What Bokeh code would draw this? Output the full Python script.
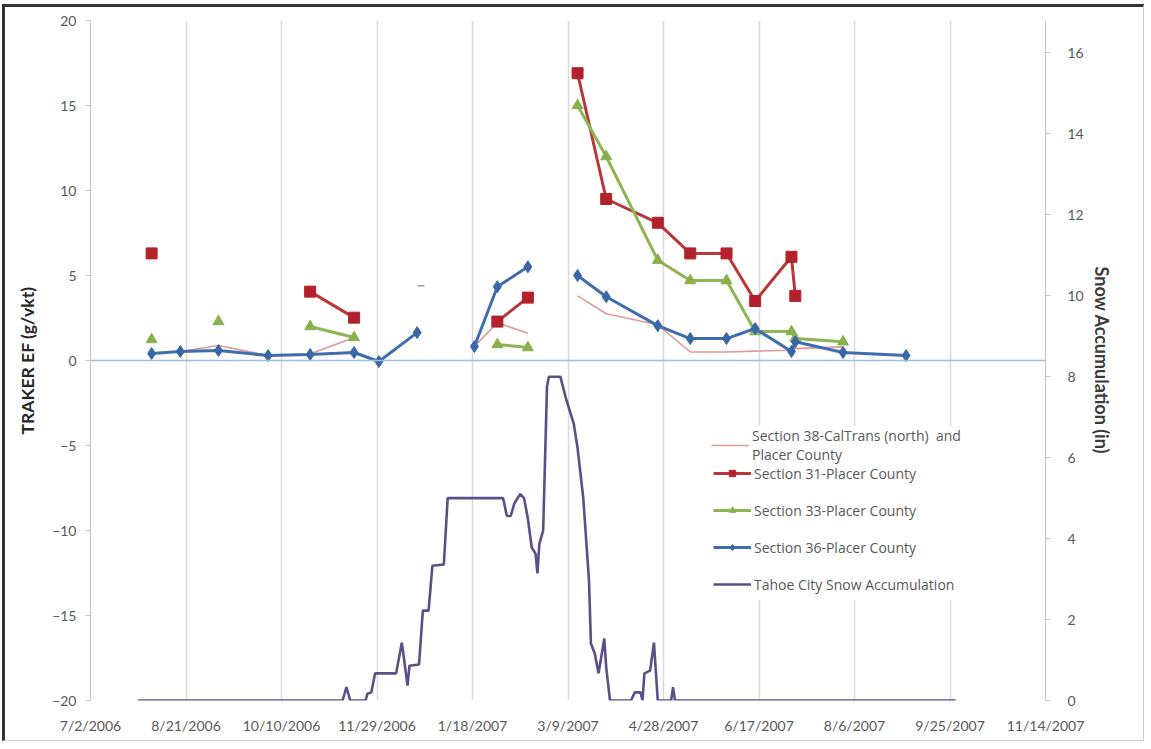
import numpy as np
import pandas as pd
from bokeh.plotting import figure
from bokeh.models import (Range1d, LinearAxis, FixedTicker, Span, Legend,
                          LegendItem, ColumnDataSource)
from bokeh.embed import file_html
from bokeh.resources import INLINE

nan = float("nan")

# ---------------- data ----------------
sample_dates = ["2006-08-03", "2006-08-18", "2006-09-07", "2006-10-03", "2006-10-25",
                "2006-11-17", "2006-11-30", "2006-12-20", "2006-12-22", "2007-01-05",
                "2007-01-19", "2007-01-31", "2007-02-16", "2007-03-01", "2007-03-14",
                "2007-03-29", "2007-04-25", "2007-05-12", "2007-05-31", "2007-06-15",
                "2007-07-04", "2007-07-06", "2007-07-31", "2007-09-02"]
section38 = [0.41, 0.53, 0.88, 0.29, 0.38, 1.35, nan, nan, 4.4, nan,
             0.82, 2.23, 1.6, nan, 3.8, 2.75, 2.1, 0.5, 0.5, 0.55,
             0.6, 0.7, 0.8, nan]
section31 = [6.3, nan, nan, nan, 4.05, 2.52, nan, nan, nan, nan,
             nan, 2.29, 3.7, nan, 16.9, 9.5, 8.1, 6.3, 6.3, 3.5,
             6.1, 3.8, nan, nan]
section33 = [1.23, nan, 2.29, nan, 2.0, 1.35, nan, nan, nan, nan,
             nan, 0.94, 0.76, nan, 15.0, 12.0, 5.9, 4.7, 4.7, 1.7,
             1.7, 1.3, 1.1, nan]
section36 = [0.41, 0.53, 0.59, 0.29, 0.35, 0.47, -0.06, 1.64, nan, nan,
             0.82, 4.34, 5.51, nan, 5.0, 3.75, 2.05, 1.29, 1.29, 1.88,
             0.53, 1.1, 0.47, 0.29]

snow_dates = ["2006-07-27", "2006-11-11", "2006-11-13", "2006-11-15", "2006-11-23",
              "2006-11-24", "2006-11-26", "2006-11-28", "2006-12-09", "2006-12-12",
              "2006-12-15", "2006-12-16", "2006-12-21", "2006-12-23", "2006-12-26",
              "2006-12-28", "2007-01-03", "2007-01-05", "2007-02-03", "2007-02-05",
              "2007-02-07", "2007-02-09", "2007-02-12", "2007-02-14", "2007-02-16",
              "2007-02-18", "2007-02-20", "2007-02-21", "2007-02-22", "2007-02-24",
              "2007-02-26", "2007-02-27", "2007-03-05", "2007-03-08", "2007-03-12",
              "2007-03-14", "2007-03-17", "2007-03-20", "2007-03-21", "2007-03-23",
              "2007-03-25", "2007-03-28", "2007-03-29", "2007-03-31", "2007-04-11",
              "2007-04-13", "2007-04-16", "2007-04-17", "2007-04-18", "2007-04-21",
              "2007-04-23", "2007-04-25", "2007-05-02", "2007-05-03", "2007-05-04",
              "2007-09-28"]
snow_accum_in = [0, 0, 0.33, 0, 0,
                 0.17, 0.2, 0.67, 0.67, 1.43,
                 0.37, 0.86, 0.89, 2.22, 2.22,
                 3.33, 3.36, 5.0, 5.0, 4.56,
                 4.56, 4.88, 5.1, 5.0, 4.49,
                 3.78, 3.63, 3.14, 3.87, 4.2,
                 7.76, 8.0, 8.0, 7.45, 6.84,
                 6.24, 5.0, 2.96, 1.41, 1.16,
                 0.67, 1.53, 0.82, 0, 0,
                 0.2, 0.2, 0, 0.67, 0.74,
                 1.43, 0, 0, 0.33, 0,
                 0]

x_tick_labels = ["7/2/2006", "8/21/2006", "10/10/2006", "11/29/2006", "1/18/2007",
                 "3/9/2007", "4/28/2007", "6/17/2007", "8/6/2007", "9/25/2007",
                 "11/14/2007"]
left_ticks = [-20, -15, -10, -5, 0, 5, 10, 15, 20]
right_ticks = [0, 2, 4, 6, 8, 10, 12, 14, 16]
right_max = 16.8

series_names = ["Section 38-CalTrans (north)  and\nPlacer County",
                "Section 31-Placer County", "Section 33-Placer County",
                "Section 36-Placer County", "Tahoe City Snow Accumulation"]

# ---------------- styling ----------------
FONT = "Lato"
LABEL_COLOR = "#595959"
C38 = "#DC9A98"
C31_LINE, C31_MARK = "#B8383A", "#B3222B"
C33_LINE, C33_MARK = "#8DB553", "#8AB04C"
C36_LINE, C36_MARK = "#3F6DAE", "#3A66A6"
CSNOW = "#5C4F88"

d = pd.to_datetime(sample_dates)
src = ColumnDataSource(dict(date=d, s38=section38, s31=section31,
                            s33=section33, s36=section36))
tick_dt = pd.to_datetime(x_tick_labels, format="%m/%d/%Y")
tick_ms = [t.timestamp() * 1000.0 for t in tick_dt]

p = figure(width=1142, height=737, x_axis_type="datetime",
           x_range=Range1d(tick_ms[0], tick_ms[-1]), y_range=Range1d(-20, 20),
           output_backend="svg", toolbar_location=None,
           min_border_left=85, min_border_right=102, min_border_top=13,
           min_border_bottom=44, outline_line_color=None,
           background_fill_color="white", border_fill_color="white")
p.styles = {"border-top": "3px solid #333333", "border-left": "3px solid #333333",
            "border-right": "1px solid #d0d0d0", "border-bottom": "1px solid #d0d0d0",
            "margin-top": "4px", "margin-left": "2px"}

# x axis (labels only, at bottom)
xa = p.xaxis[0]
xa.ticker = FixedTicker(ticks=tick_ms)
xa.major_label_overrides = {t: lab for t, lab in zip(tick_ms, x_tick_labels)}
xa.axis_line_color = None
xa.major_tick_line_color = None
xa.minor_tick_line_color = None
xa.major_label_standoff = 10
xa.major_label_text_font = FONT
xa.major_label_text_font_size = "14px"
xa.major_label_text_color = LABEL_COLOR

p.xgrid.ticker = FixedTicker(ticks=tick_ms)
p.xgrid.grid_line_color = "#D9D9D9"
p.xgrid.grid_line_width = 1.5
p.ygrid.visible = False

ya = p.yaxis[0]
ya.ticker = FixedTicker(ticks=left_ticks)
ya.axis_line_color = "#C8C8C8"
ya.axis_line_width = 1.2
ya.major_tick_line_color = "#C8C8C8"
ya.major_tick_out = 5
ya.major_tick_in = 0
ya.minor_tick_line_color = None
ya.major_label_standoff = 9
ya.major_label_text_font = FONT
ya.major_label_text_font_size = "14px"
ya.major_label_text_color = LABEL_COLOR
ya.axis_label = "TRAKER EF (g/vkt)"
ya.axis_label_text_font = FONT
ya.axis_label_text_font_style = "bold"
ya.axis_label_text_font_size = "17.5px"
ya.axis_label_text_color = "#262626"
ya.axis_label_standoff = 11

p.extra_y_ranges = {"snow": Range1d(0, right_max)}
ra = LinearAxis(y_range_name="snow", ticker=FixedTicker(ticks=right_ticks))
ra.axis_line_color = "#C8C8C8"
ra.axis_line_width = 1.2
ra.major_tick_line_color = "#C8C8C8"
ra.major_tick_out = 5
ra.major_tick_in = 0
ra.minor_tick_line_color = None
ra.major_label_standoff = 17
ra.major_label_text_font = FONT
ra.major_label_text_font_size = "14px"
ra.major_label_text_color = LABEL_COLOR
ra.axis_label = "Snow Accumulation (in)"
ra.axis_label_text_font = FONT
ra.axis_label_text_font_style = "bold"
ra.axis_label_text_font_size = "18px"
ra.axis_label_text_color = "#3a3a3a"
ra.axis_label_standoff = 4
p.add_layout(ra, "right")

p.add_layout(Span(location=0, dimension="width", line_color="#9DBFE3", line_width=1.5))

# ---------------- series ----------------
r38 = p.line("date", "s38", source=src, line_color=C38, line_width=1.6)
s38_arr = np.array(section38, dtype=float)
iso = [i for i in range(len(s38_arr)) if not np.isnan(s38_arr[i])
       and (i == 0 or np.isnan(s38_arr[i - 1]))
       and (i == len(s38_arr) - 1 or np.isnan(s38_arr[i + 1]))]
p.scatter(x=[d[i] for i in iso], y=[s38_arr[i] for i in iso], marker="dash",
          size=7, line_color="#9A9A9A", line_width=1.5)

r31l = p.line("date", "s31", source=src, line_color=C31_LINE, line_width=3)
r31m = p.scatter("date", "s31", source=src, marker="square", size=11,
                 fill_color=C31_MARK, line_color=C31_MARK)
r33l = p.line("date", "s33", source=src, line_color=C33_LINE, line_width=3)
r33m = p.scatter("date", "s33", source=src, marker="triangle", size=11,
                 fill_color=C33_MARK, line_color=C33_MARK)
r36l = p.line("date", "s36", source=src, line_color=C36_LINE, line_width=3)
r36m = p.scatter("date", "s36", source=src, marker="diamond", size=12,
                 fill_color=C36_MARK, line_color=C36_MARK)
rsnow = p.line(pd.to_datetime(snow_dates), snow_accum_in, y_range_name="snow",
               line_color=CSNOW, line_width=2.6)


def make_legend(items, loc, padding):
    lg = Legend(items=items, location=loc)
    lg.margin = 0
    lg.padding = padding
    lg.spacing = 5
    lg.label_height = 32
    lg.glyph_height = 16
    lg.glyph_width = 38
    lg.label_standoff = 3
    lg.label_text_font = "Open Sans"
    lg.label_text_font_size = "14px"
    lg.label_text_color = LABEL_COLOR
    lg.border_line_color = None
    lg.background_fill_color = "white"
    lg.background_fill_alpha = 1.0
    return lg


legend_b = make_legend([
    LegendItem(label=series_names[1], renderers=[r31l, r31m]),
    LegendItem(label=series_names[2], renderers=[r33l, r33m]),
    LegendItem(label=series_names[3], renderers=[r36l, r36m]),
    LegendItem(label=series_names[4], renderers=[rsnow]),
], (623, 100), 5)
legend_a = make_legend([
    LegendItem(label=series_names[0], renderers=[r38]),
], (621, 236), 2)
p.add_layout(legend_b, "center")
p.add_layout(legend_a, "center")

open("out.html", "w").write(file_html(p, INLINE))
